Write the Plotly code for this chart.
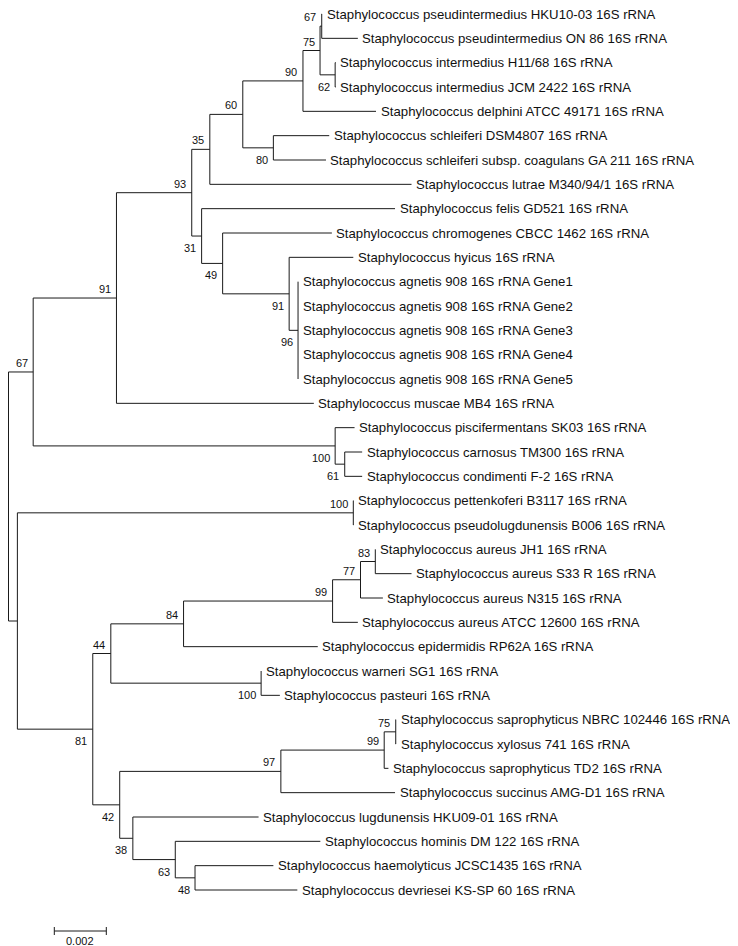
import plotly.graph_objects as go

# ---------------- data ----------------
# internal nodes (parents listed before children)
node_ids = ["root", "nA", "n67a", "n91a", "n93", "n35", "n60", "n90", "n75a", "n67b",
            "n62", "n80", "n31", "n49", "n91b", "n96", "n100a", "n61", "n100b", "n81",
            "n44", "n84", "n99a", "n77", "n83", "n100c", "n42", "n97", "n99b", "n75b",
            "n38", "n63", "n48"]
node_parents = [None, "root", "root", "n67a", "n91a", "n93", "n35", "n60", "n90", "n75a",
                "n75a", "n60", "n93", "n31", "n49", "n91b", "n67a", "n100a", "nA", "nA",
                "n81", "n44", "n84", "n99a", "n77", "n44", "n81", "n42", "n97", "n99b",
                "n42", "n38", "n63"]
# distance from root (substitutions per site)
node_depth = [0.0, 0.000342, 0.000949, 0.004152, 0.007047, 0.007742, 0.009010, 0.011324, 0.011981, 0.012046,
              0.012562, 0.010186, 0.007427, 0.008235, 0.010793, 0.011135, 0.012562, 0.012930, 0.013260, 0.003241,
              0.003935, 0.006732, 0.012463, 0.013537, 0.014106, 0.009715, 0.004277, 0.010474, 0.014448, 0.014892,
              0.004782, 0.006414, 0.007173]
node_support = [None, None, 67, 91, 93, 35, 60, 90, 75, 67,
                62, 80, 31, 49, 91, 96, 100, 61, 100, 81,
                44, 84, 99, 77, 83, 100, 42, 97, 99, 75,
                38, 63, 48]
node_label_side = [None, None, "above", "above", "above", "above", "above", "above", "above", "above",
                   "below", "below", "below", "below", "below", "below", "below", "below", "above", "below",
                   "above", "above", "above", "above", "above", "below", "below", "above", "above", "above",
                   "below", "below", "below"]

leaf_names = [
    "Staphylococcus pseudintermedius HKU10-03 16S rRNA",
    "Staphylococcus pseudintermedius ON 86 16S rRNA",
    "Staphylococcus intermedius H11/68 16S rRNA",
    "Staphylococcus intermedius JCM 2422 16S rRNA",
    "Staphylococcus delphini ATCC 49171 16S rRNA",
    "Staphylococcus schleiferi DSM4807 16S rRNA",
    "Staphylococcus schleiferi subsp. coagulans GA 211 16S rRNA",
    "Staphylococcus lutrae M340/94/1 16S rRNA",
    "Staphylococcus felis GD521 16S rRNA",
    "Staphylococcus chromogenes CBCC 1462 16S rRNA",
    "Staphylococcus hyicus 16S rRNA",
    "Staphylococcus agnetis 908 16S rRNA Gene1",
    "Staphylococcus agnetis 908 16S rRNA Gene2",
    "Staphylococcus agnetis 908 16S rRNA Gene3",
    "Staphylococcus agnetis 908 16S rRNA Gene4",
    "Staphylococcus agnetis 908 16S rRNA Gene5",
    "Staphylococcus muscae MB4 16S rRNA",
    "Staphylococcus piscifermentans SK03 16S rRNA",
    "Staphylococcus carnosus TM300 16S rRNA",
    "Staphylococcus condimenti F-2 16S rRNA",
    "Staphylococcus pettenkoferi B3117 16S rRNA",
    "Staphylococcus pseudolugdunensis B006 16S rRNA",
    "Staphylococcus aureus JH1 16S rRNA",
    "Staphylococcus aureus S33 R 16S rRNA",
    "Staphylococcus aureus N315 16S rRNA",
    "Staphylococcus aureus ATCC 12600 16S rRNA",
    "Staphylococcus epidermidis RP62A 16S rRNA",
    "Staphylococcus warneri SG1 16S rRNA",
    "Staphylococcus pasteuri 16S rRNA",
    "Staphylococcus saprophyticus NBRC 102446 16S rRNA",
    "Staphylococcus xylosus 741 16S rRNA",
    "Staphylococcus saprophyticus TD2 16S rRNA",
    "Staphylococcus succinus AMG-D1 16S rRNA",
    "Staphylococcus lugdunensis HKU09-01 16S rRNA",
    "Staphylococcus hominis DM 122 16S rRNA",
    "Staphylococcus haemolyticus JCSC1435 16S rRNA",
    "Staphylococcus devriesei KS-SP 60 16S rRNA",
]
leaf_parents = ["n67b", "n67b", "n62", "n62", "n90", "n80", "n80", "n35", "n31", "n49",
                "n91b", "n96", "n96", "n96", "n96", "n96", "n91a", "n100a", "n61", "n61",
                "n100b", "n100b", "n83", "n83", "n77", "n99a", "n84", "n100c", "n100c", "n75b",
                "n75b", "n99b", "n97", "n38", "n63", "n48", "n48"]
leaf_depth = [0.012057, 0.013435, 0.012588, 0.012588, 0.014133, 0.012334, 0.012209, 0.015499, 0.014865, 0.012436,
              0.013260, 0.011135, 0.011135, 0.011135, 0.011135, 0.011135, 0.011742, 0.013309, 0.013601, 0.013601,
              0.013271, 0.013271, 0.014106, 0.015499, 0.014398, 0.013435, 0.011894, 0.009715, 0.010436, 0.014903,
              0.014903, 0.014611, 0.014865, 0.009617, 0.011992, 0.010186, 0.011108]

scale_length = 0.002
scale_label = "0.002"

# ---------------- layout (page pixels; the page body has an 8px margin) ----------------
BODY = 8
W, H = 738 - BODY, 946 - BODY
ROOT_PAGE_X = 8.5
PX_PER_UNIT = 26003.0
FIRST_ROW_PAGE_Y = 14.0
LAST_ROW_PAGE_Y = 890.0
n_rows = len(leaf_names)
ROW_PX = (LAST_ROW_PAGE_Y - FIRST_ROW_PAGE_Y) / (n_rows - 1)

root_px = ROOT_PAGE_X - BODY
row0_px = FIRST_ROW_PAGE_Y - BODY
x_range = [-root_px / PX_PER_UNIT, (W - root_px) / PX_PER_UNIT]
y_range = [(H - row0_px) / ROW_PX, -row0_px / ROW_PX]

# ---------------- tree geometry ----------------
depth = dict(zip(node_ids, node_depth))
parent = dict(zip(node_ids, node_parents))
ypos = {}
children = {n: [] for n in node_ids}
for i, p in enumerate(leaf_parents):
    key = ("leaf", i)
    ypos[key] = i
    depth[key] = leaf_depth[i]
    parent[key] = p
    children[p].append(key)
for n, p in zip(node_ids, node_parents):
    if p is not None:
        children[p].append(n)
for n in reversed(node_ids):
    cy = [ypos[c] for c in children[n]]
    ypos[n] = (min(cy) + max(cy)) / 2

xs, ys = [], []
for key in list(node_ids) + [("leaf", i) for i in range(n_rows)]:
    p = parent[key]
    if p is not None:
        xs += [depth[p], depth[key], None]
        ys += [ypos[key], ypos[key], None]
for n in node_ids:
    cy = [ypos[c] for c in children[n]]
    xs += [depth[n], depth[n], None]
    ys += [min(cy), max(cy), None]

LINE = "#1a1a1a"
fig = go.Figure()
fig.add_trace(go.Scatter(x=xs, y=ys, mode="lines", line=dict(color=LINE, width=1),
                         hoverinfo="skip", showlegend=False))

# scale bar
sb_x0 = (54.3 - ROOT_PAGE_X) / PX_PER_UNIT
sb_y = (931 - FIRST_ROW_PAGE_Y) / ROW_PX
tick = 4 / ROW_PX
fig.add_trace(go.Scatter(
    x=[sb_x0, sb_x0 + scale_length, None, sb_x0, sb_x0, None, sb_x0 + scale_length, sb_x0 + scale_length],
    y=[sb_y, sb_y, None, sb_y - tick, sb_y + tick, None, sb_y - tick, sb_y + tick],
    mode="lines", line=dict(color=LINE, width=1), hoverinfo="skip", showlegend=False))

FONT = "Arial, Liberation Sans, sans-serif"
annotations = []
for i, nm in enumerate(leaf_names):
    annotations.append(dict(x=leaf_depth[i], y=i, text=nm, xanchor="left", yanchor="middle",
                            xshift=2.5, showarrow=False,
                            font=dict(family=FONT, size=13.2, color="#111")))
for n, s, side in zip(node_ids, node_support, node_label_side):
    if s is None:
        continue
    annotations.append(dict(x=depth[n], y=ypos[n], text=str(s), xanchor="right", yanchor="middle",
                            xshift=-3.5, yshift=9 if side == "above" else -12, showarrow=False,
                            font=dict(family=FONT, size=11, color="#111")))
annotations.append(dict(x=sb_x0 + scale_length / 2, y=sb_y, text=scale_label, xanchor="center",
                        yanchor="top", yshift=-2, showarrow=False,
                        font=dict(family=FONT, size=11, color="#111")))

fig.update_layout(
    width=W, height=H, margin=dict(l=0, r=0, t=0, b=0),
    paper_bgcolor="white", plot_bgcolor="white",
    xaxis=dict(range=x_range, visible=False, fixedrange=True),
    yaxis=dict(range=y_range, visible=False, fixedrange=True),
    annotations=annotations, showlegend=False,
)
fig.write_html("out.html")
